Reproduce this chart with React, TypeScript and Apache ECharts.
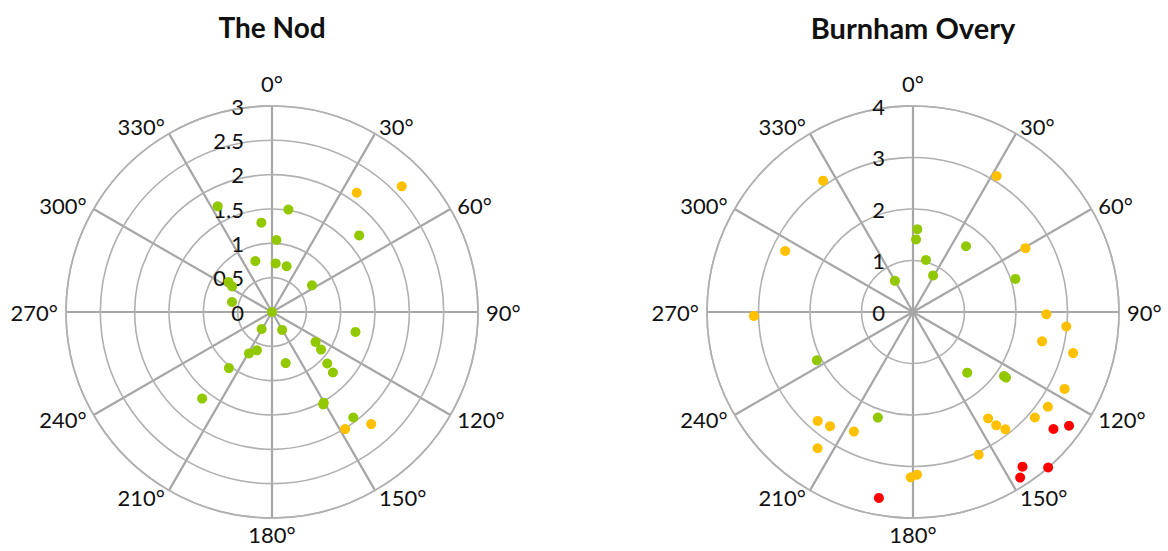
import React, { useEffect, useRef } from "react";
import * as echarts from "echarts";

// Each point is [radius, bearing in degrees]
const nodGreen: [number, number][] = [
  [0, 0], [1.51, 9.1], [1.31, 353.2], [1.05, 3.5], [0.78, 341.9], [0.71, 4.3],
  [0.7, 17.7], [0.7, 56.3], [1.69, 48.7], [1.73, 332.8], [0.77, 304.7],
  [0.69, 302.7], [0.6, 284], [0.29, 211.3], [0.3, 150.5], [1.25, 103.4],
  [0.77, 124.5], [0.9, 127.5], [0.6, 201.5], [0.69, 209.1], [0.77, 165],
  [1.1, 133], [1.25, 134.8], [1.03, 217.5], [1.62, 218.9], [1.52, 150.3],
  [1.54, 151], [1.94, 142.4],
];
const nodAmber: [number, number][] = [
  [2.13, 35.4], [2.63, 45.9], [2.01, 148], [2.18, 138.5],
];

const burnhamGreen: [number, number][] = [
  [1.61, 3], [1.41, 2.4], [1.04, 14], [0.81, 28.8], [0.7, 329.9], [1.64, 38.9],
  [2.09, 72.1], [1.58, 138.2], [2.16, 125.1], [2.21, 125.2], [2.09, 243.3],
  [2.16, 198.4],
];
const burnhamAmber: [number, number][] = [
  [3.09, 325.6], [3.1, 31.6], [2.75, 295.5], [2.51, 60.4], [3.09, 268.6],
  [2.59, 91], [2.99, 95.4], [2.57, 102.8], [3.21, 104.4], [3.3, 116.9],
  [3.2, 125.1], [3.13, 130.9], [2.53, 144.8], [2.73, 143.7], [2.9, 141.8],
  [3.05, 155.3], [3.16, 178.6], [3.21, 180.8], [2.81, 221.2], [2.74, 216],
  [2.59, 206.3], [3.23, 215],
];
const burnhamRed: [number, number][] = [
  [3.75, 126.1], [3.55, 129.8], [3.68, 144.7], [3.83, 147.1], [4.0, 139],
  [3.67, 190.4],
];

const titles = ["The Nod", "Burnham Overy"];
const titleSizes = [28, 29];
const radiusMax = [3, 4];
const radiusStep = [0.5, 1];
const bearingTicks = [0, 30, 60, 90, 120, 150, 180, 210, 240, 270, 300, 330];

const GREEN = "#92C800";
const AMBER = "#FFC000";
const RED = "#FF0000";
const INK = "#111111";
const FONT = "Lato, 'Open Sans', sans-serif";

const centers: [number, number][] = [
  [272, 312],
  [913, 312],
];
const RADIUS = 206;

// Bearing labels sit just beyond the end of each spoke, facing outward
function bearingLabels(center: [number, number]) {
  return bearingTicks.map((deg) => {
    const rad = (deg * Math.PI) / 180;
    const sx = Math.sin(rad);
    const cy = -Math.cos(rad);
    const vertical = Math.abs(sx) < 0.3;
    const gap = vertical ? (cy < 0 ? 12 : 5) : 8;
    const x = center[0] + (RADIUS + gap) * sx;
    const y = center[1] + (RADIUS + gap) * cy;
    return {
      type: "text",
      x,
      y,
      silent: true,
      style: {
        text: `${deg}°`,
        align: vertical ? "center" : sx > 0 ? "left" : "right",
        verticalAlign: vertical ? (cy < 0 ? "bottom" : "top") : "middle",
        fontSize: 22,
        fontFamily: FONT,
        fill: INK,
      },
    };
  });
}

export default function App() {
  const ref = useRef<HTMLDivElement>(null);

  useEffect(() => {
    if (!ref.current) return;
    const chart = echarts.init(ref.current, undefined, { renderer: "svg" });

    const polar = centers.map((c) => ({ center: c, radius: RADIUS }));

    const angleAxis = centers.map((_, i) => ({
      polarIndex: i,
      type: "value",
      min: 0,
      max: 360,
      interval: 30,
      startAngle: 90,
      clockwise: true,
      axisLine: { show: true, lineStyle: { color: "#B0B0B0", width: 1.6 } },
      axisTick: { show: false },
      axisLabel: { show: false },
      splitLine: { show: true, lineStyle: { color: "#A6A6A6", width: 2.2 } },
    }));

    const radiusAxis = centers.map((_, i) => ({
      polarIndex: i,
      type: "value",
      min: 0,
      max: radiusMax[i],
      interval: radiusStep[i],
      axisLine: { show: false },
      axisTick: { show: false },
      axisLabel: {
        fontSize: 22,
        color: INK,
        fontFamily: FONT,
        margin: 28,
        formatter: (v: number) => `${v}`,
      },
      splitLine: { show: true, lineStyle: { color: "#B0B0B0", width: 1.6 } },
      z: 5,
    }));

    const scatter = (data: [number, number][], color: string, idx: number) => ({
      type: "scatter",
      coordinateSystem: "polar",
      polarIndex: idx,
      data,
      symbolSize: 10,
      itemStyle: { color, opacity: 1 },
      z: 10,
    });

    const titleTexts = titles.map((t, i) => ({
      type: "text",
      x: centers[i][0],
      y: 27,
      silent: true,
      style: {
        text: t,
        align: "center",
        verticalAlign: "middle",
        fontSize: titleSizes[i],
        fontWeight: "bold",
        fontFamily: FONT,
        fill: INK,
      },
    }));

    chart.setOption({
      animation: false,
      backgroundColor: "#FFFFFF",
      polar,
      angleAxis,
      radiusAxis,
      graphic: [
        ...titleTexts,
        ...bearingLabels(centers[0]),
        ...bearingLabels(centers[1]),
      ],
      series: [
        scatter(nodGreen, GREEN, 0),
        scatter(nodAmber, AMBER, 0),
        scatter(burnhamGreen, GREEN, 1),
        scatter(burnhamAmber, AMBER, 1),
        scatter(burnhamRed, RED, 1),
      ],
    });

    return () => chart.dispose();
  }, []);

  return (
    <div
      ref={ref}
      style={{ position: "absolute", left: 0, top: 0, width: 1168, height: 551 }}
    />
  );
}
